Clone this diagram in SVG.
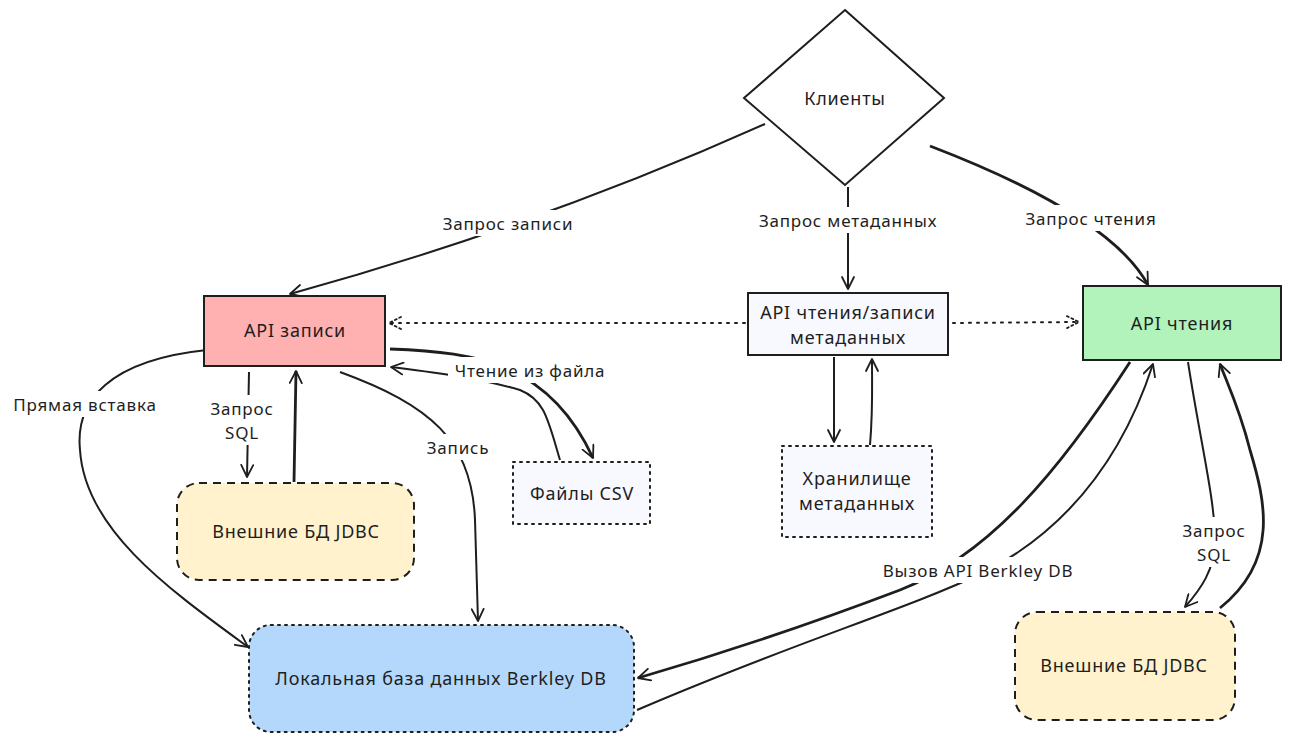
<svg xmlns="http://www.w3.org/2000/svg" width="1291" height="742" viewBox="0 0 1291 742">
<defs>
<marker id="ah" viewBox="0 0 14 14" refX="13" refY="7" markerWidth="14" markerHeight="14" markerUnits="userSpaceOnUse" orient="auto">
<path d="M1,1 L13,7 L1,13" fill="none" stroke="#1e1e1e" stroke-width="1.8" stroke-linecap="round" stroke-linejoin="round"/>
</marker>
<marker id="ahd" viewBox="0 0 14 14" refX="13" refY="7" markerWidth="14" markerHeight="14" markerUnits="userSpaceOnUse" orient="auto">
<path d="M1,1 L13,7 L1,13" fill="none" stroke="#1e1e1e" stroke-width="1.8" stroke-dasharray="2 3" stroke-linecap="round"/>
</marker>
</defs>
<style>
text{font-family:"Noto Sans","Liberation Sans",sans-serif;fill:#1e1e1e;text-anchor:middle;dominant-baseline:central;letter-spacing:0.8px}
.n{font-size:18px}
.l{font-size:17px}
.box{stroke:#1e1e1e;stroke-width:2}
.dash{stroke:#1e1e1e;stroke-width:2;stroke-dasharray:8 6}
.dot{stroke:#1e1e1e;stroke-width:2;stroke-dasharray:2 5;stroke-linecap:round}
.e{fill:none;stroke:#1e1e1e;stroke-width:2;marker-end:url(#ah)}
.t{stroke-width:2.8}
.ed{fill:none;stroke:#1e1e1e;stroke-width:2;stroke-dasharray:2 6;stroke-linecap:round;marker-end:url(#ahd)}
.bg{fill:#ffffff}
</style>
<rect width="1291" height="742" fill="#ffffff"/>

<g id="connectors">
<path class="e" d="M765,124 Q540,225 290,294"/>
<path class="e" d="M848,187 L848,289"/>
<path class="e t" d="M930,146 Q1110,215 1148,285"/>
<path class="ed" d="M745,323 L389,323"/>
<path class="ed" d="M953,323 L1079,322"/>
<path class="e t" d="M390,349 C480,352 550,365 593,458"/>
<path class="e" d="M560,460 C548,420 545,400 520,390 C480,378 430,372 391,367"/>
<path class="e" d="M249,372 L247,477"/>
<path class="e t" d="M294,482 L296,371"/>
<path class="e" d="M340,372 C430,405 472,440 475,520 L478,621"/>
<path class="e" d="M207,350 C110,360 75,400 80,450 C85,530 170,590 248,647"/>
<path class="e" d="M834,357 L834,442"/>
<path class="e" d="M870,445 C873,410 872,390 872,359"/>
<path class="e t" d="M1130,362 C1060,470 990,555 900,590 C800,628 700,660 638,678"/>
<path class="e" d="M637,710 C800,640 900,612 985,572 C1075,525 1125,450 1153,364"/>
<path class="e" d="M1188,362 C1200,440 1215,500 1215,540 C1215,570 1200,590 1185,607"/>
<path class="e t" d="M1220,608 C1280,560 1265,500 1250,450 C1240,410 1228,385 1220,364"/>

<rect class="bg" x="432" y="210" width="152" height="26"/>
<text class="l" x="508" y="223">Запрос записи</text>
<rect class="bg" x="752" y="207" width="192" height="26"/>
<text class="l" x="848" y="220">Запрос метаданных</text>
<rect class="bg" x="1018" y="205" width="146" height="26"/>
<text class="l" x="1091" y="218">Запрос чтения</text>
<rect class="bg" x="448" y="357" width="164" height="26"/>
<text class="l" x="530" y="370">Чтение из файла</text>
<rect class="bg" x="210" y="395" width="64" height="50"/>
<text class="l" x="242" y="408">Запрос</text>
<text class="l" x="242" y="432">SQL</text>
<rect class="bg" x="422" y="434" width="72" height="26"/>
<text class="l" x="458" y="447">Запись</text>
<rect class="bg" x="6" y="391" width="158" height="26"/>
<text class="l" x="85" y="404">Прямая вставка</text>
<rect class="bg" x="862" y="557" width="232" height="26"/>
<text class="l" x="978" y="570">Вызов API Berkley DB</text>
<rect class="bg" x="1182" y="517" width="64" height="50"/>
<text class="l" x="1214" y="530">Запрос</text>
<text class="l" x="1214" y="554">SQL</text>
</g>

<g id="clients">
<polygon class="box" points="845,10 944,98 845,185 744,98" fill="#ffffff"/>
<text class="n" x="845" y="98">Клиенты</text>
</g>
<g id="api-write">
<rect class="box" x="204" y="296" width="181" height="70" fill="#ffb1b1"/>
<text class="n" x="295" y="330">API записи</text>
</g>
<g id="api-meta">
<rect class="box" x="748" y="293" width="200" height="62" fill="#f8f8ff"/>
<text class="n" x="848" y="312">API чтения/записи</text>
<text class="n" x="848" y="337">метаданных</text>
</g>
<g id="api-read">
<rect class="box" x="1083" y="286" width="198" height="74" fill="#b2f2bb"/>
<text class="n" x="1182" y="323">API чтения</text>
</g>
<g id="jdbc-left">
<rect class="dash" x="177" y="483" width="237" height="97" rx="22" fill="#fff2cc"/>
<text class="n" x="296" y="531">Внешние БД JDBC</text>
</g>
<g id="csv">
<rect class="dot" x="513" y="462" width="137" height="62" fill="#f8f8ff"/>
<text class="n" x="582" y="493">Файлы CSV</text>
</g>
<g id="meta-store">
<rect class="dot" x="782" y="446" width="150" height="91" fill="#f8f8ff"/>
<text class="n" x="857" y="478">Хранилище</text>
<text class="n" x="857" y="503">метаданных</text>
</g>
<g id="berkley">
<rect class="dot" x="249" y="625" width="385" height="107" rx="22" fill="#b3d8fb"/>
<text class="n" x="441" y="678">Локальная база данных Berkley DB</text>
</g>
<g id="jdbc-right">
<rect class="dash" x="1015" y="612" width="220" height="108" rx="22" fill="#fff2cc"/>
<text class="n" x="1124" y="665">Внешние БД JDBC</text>
</g>
</svg>
